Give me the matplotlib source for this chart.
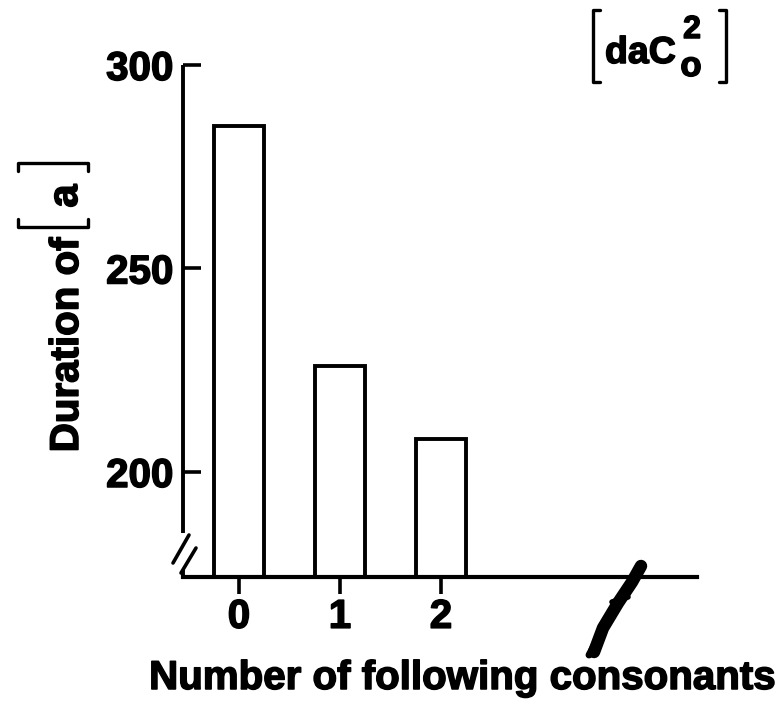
import matplotlib
matplotlib.use("Agg")
import matplotlib.pyplot as plt
import matplotlib.patheffects as pe
from matplotlib.lines import Line2D

plt.rcParams['font.family'] = ['Liberation Sans', 'DejaVu Sans']
plt.rcParams['font.weight'] = 'bold'

# mean vowel duration by number of following consonants
consonants = [0, 1, 2]
duration = [285, 226, 208]
y_ticks = [200, 250, 300]
y_min, y_max = 174.2, 300
y_break = 185.0

W, H = 783, 714
fig = plt.figure(figsize=(W / 100, H / 100), dpi=100)
ax = fig.add_axes([183 / W, (H - 577) / H, 514 / W, 512 / H])

# a thin outline makes the letters as heavy as the printed type
heavy = [pe.withStroke(linewidth=1.1, foreground='black')]


def fx(x):
    return x / W


def fy(y):
    return 1 - y / H


def fig_line(xs, ys, lw=2.4):
    fig.add_artist(Line2D([fx(v) for v in xs], [fy(v) for v in ys],
                          color='black', lw=lw, solid_capstyle='round',
                          solid_joinstyle='round'))


ax.bar(consonants, duration, width=0.5, bottom=0, facecolor='white',
       edgecolor='black', linewidth=2.8, zorder=2)

ax.set_xlim(-0.554, 4.535)
ax.set_ylim(y_min, y_max)

for side in ['top', 'right', 'left']:
    ax.spines[side].set_visible(False)
ax.spines['bottom'].set_linewidth(3)
ax.spines['bottom'].set_zorder(3)

# broken y axis: long part above the break, short stub at the bottom
ytr = ax.get_yaxis_transform()
ax.plot([0, 0], [y_break, y_max], transform=ytr, color='black', lw=2.8,
        clip_on=False, solid_capstyle='butt')
ax.plot([0, 0], [y_min, 175.9], transform=ytr, color='black', lw=2.8,
        clip_on=False, solid_capstyle='butt')

ax.set_yticks(y_ticks)
ax.set_yticklabels([str(v) for v in y_ticks])
ax.tick_params(axis='y', direction='in', length=13, width=2.6, pad=7,
               labelsize=29)
ax.set_xticks(consonants)
ax.set_xticklabels([str(v) for v in consonants])
ax.tick_params(axis='x', direction='out', length=12, width=2.6, pad=3,
               labelsize=29)
for lab in ax.get_xticklabels() + ax.get_yticklabels():
    lab.set_path_effects(heavy)

# axis break marks
fig_line([173, 189], [563, 535], lw=2.6)
fig_line([181, 196], [573, 548], lw=2.6)
fig_line([641, 632, 618, 603, 594], [566, 582, 603, 628, 652], lw=9)
fig_line([604, 596, 589], [628, 642, 655], lw=5)
fig_line([612, 628], [602, 597], lw=4)

fig.text(fx(462), fy(678), 'Number of following consonants', ha='center',
         va='center', fontsize=29, fontweight='bold', path_effects=heavy)

# y label with bracketed vowel
fig.text(fx(67), fy(345), 'Duration of', rotation=90, ha='center',
         va='center', fontsize=29, fontweight='bold', path_effects=heavy)
fig.text(fx(66), fy(196), 'a', rotation=90, ha='center', va='center',
         fontsize=30, fontweight='bold', path_effects=heavy)
fig_line([18, 18, 88, 88], [219, 227, 227, 219])
fig_line([18, 18, 88, 88], [171, 163, 163, 171])

# panel tag [daC o 2]
fig.text(fx(605), fy(63), 'daC', ha='left', va='baseline', fontsize=27,
         fontweight='bold', path_effects=heavy)
fig.text(fx(692), fy(38), '2', ha='center', va='baseline', fontsize=23,
         fontweight='bold', path_effects=heavy)
fig.text(fx(691), fy(76), 'o', ha='center', va='baseline', fontsize=25,
         fontweight='bold', path_effects=heavy)
fig_line([600, 593, 593, 600], [10, 10, 82, 82])
fig_line([719, 726, 726, 719], [10, 10, 82, 82])

fig.savefig('out.png', dpi=100, facecolor='white')
